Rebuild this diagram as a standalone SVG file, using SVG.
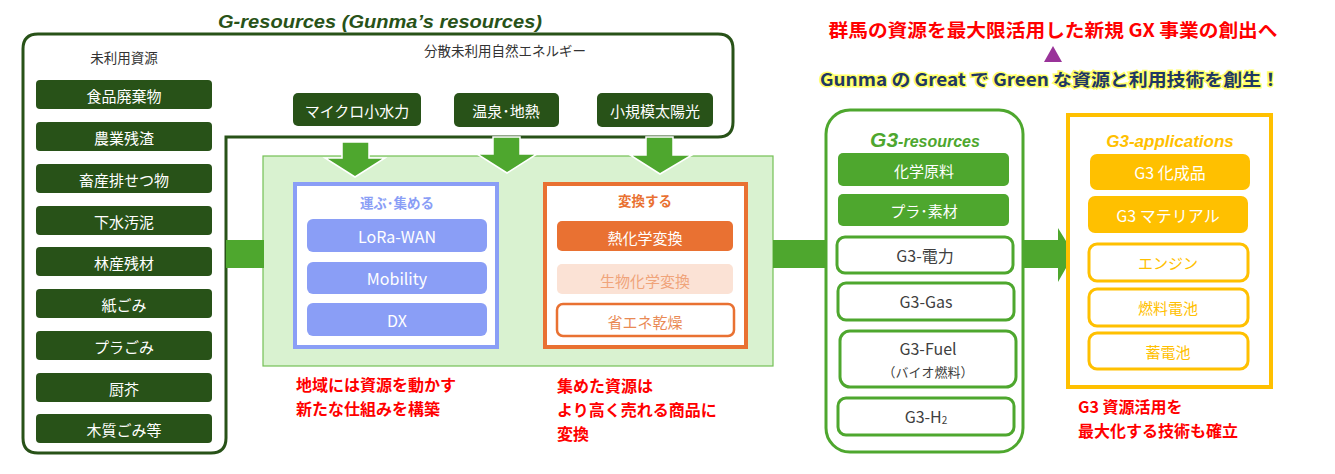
<svg xmlns="http://www.w3.org/2000/svg" width="1335" height="474" viewBox="0 0 1335 474">
<style>
text{font-family:"Noto Sans CJK JP","Noto Sans",sans-serif;}
.c{text-anchor:middle;dominant-baseline:central;}
.dg{fill:#285218;}
.wt{fill:#ffffff;font-size:15px;}
.blue{fill:#8a9ef6;}
.red{fill:#ff0000;font-size:16px;font-weight:bold;}
.g3o{fill:#ffffff;stroke:#4ea72e;stroke-width:3;}
.g3t{fill:#404040;font-size:16px;}
.yo{fill:#ffffff;stroke:#ffc000;stroke-width:3;}
.yt{fill:#ffc000;font-size:15px;}
.arrow{fill:#4ea72e;stroke:#ffffff;stroke-width:1.5;}
</style>
<rect width="1335" height="474" fill="#ffffff"/>

<g id="g-resources">
<text x="380" y="28" text-anchor="middle" textLength="324" lengthAdjust="spacingAndGlyphs" style="font-family:'Liberation Sans',Arial,sans-serif;font-weight:bold;font-style:italic;font-size:18px;fill:#285218;">G-resources (Gunma’s resources)</text>
<path d="M38,34 H718 Q733,34 733,49 V122 Q733,137 718,137 H226 V438 Q226,453 211,453 H38 Q23,453 23,438 V49 Q23,34 38,34 Z" fill="none" stroke="#285218" stroke-width="3"/>
<text class="c" x="124" y="57" style="font-size:13.5px;fill:#333;">未利用資源</text>
<text class="c" x="505" y="50" style="font-size:13.5px;fill:#333;">分散未利用自然エネルギー</text>
</g>

<g id="unused-resources">
<rect class="dg" x="36" y="80" width="176" height="29" rx="4"/><text class="c wt" x="124" y="95">食品廃棄物</text>
<rect class="dg" x="36" y="122" width="176" height="29" rx="4"/><text class="c wt" x="124" y="137">農業残渣</text>
<rect class="dg" x="36" y="164" width="176" height="29" rx="4"/><text class="c wt" x="124" y="179">畜産排せつ物</text>
<rect class="dg" x="36" y="206" width="176" height="29" rx="4"/><text class="c wt" x="124" y="221">下水汚泥</text>
<rect class="dg" x="36" y="247" width="176" height="29" rx="4"/><text class="c wt" x="124" y="262">林産残材</text>
<rect class="dg" x="36" y="289" width="176" height="29" rx="4"/><text class="c wt" x="124" y="304">紙ごみ</text>
<rect class="dg" x="36" y="331" width="176" height="29" rx="4"/><text class="c wt" x="124" y="346">プラごみ</text>
<rect class="dg" x="36" y="373" width="176" height="29" rx="4"/><text class="c wt" x="124" y="388">厨芥</text>
<rect class="dg" x="36" y="414" width="176" height="29" rx="4"/><text class="c wt" x="124" y="429">木質ごみ等</text>
</g>

<g id="energy">
<rect class="dg" x="293" y="93" width="128" height="33" rx="5"/><text class="c wt" x="357" y="110">マイクロ小水力</text>
<rect class="dg" x="454" y="93" width="105" height="34" rx="5"/><text class="c wt" x="506" y="110">温泉･地熱</text>
<rect class="dg" x="597" y="93" width="116" height="34" rx="5"/><text class="c wt" x="655" y="110">小規模太陽光</text>
</g>

<g id="panel">
<rect x="263" y="156" width="510" height="210" fill="#d9f2d0" stroke="#74c055" stroke-width="1.2"/>
</g>

<g id="connectors">
<polygon class="arrow" points="342,142 369,142 369,158 385,158 355,177 325,158 342,158"/>
<polygon class="arrow" points="493,137 520,137 520,154 537,154 507,173 477,154 493,154"/>
<polygon class="arrow" points="646,137 673,137 673,155 692,155 660,174 630,155 646,155"/>
<rect x="226" y="240" width="38" height="28" fill="#4ea72e"/>
<rect x="773" y="240" width="53" height="28" fill="#4ea72e"/>
<polygon points="1023,240 1058,240 1058,228 1074,254 1058,282 1058,268 1023,268" fill="#4ea72e"/>
</g>

<g id="collect">
<rect x="295" y="184" width="202" height="163" fill="#ffffff" stroke="#8a9ef6" stroke-width="4"/>
<text class="c" x="397" y="202" style="font-size:13.5px;font-weight:bold;fill:#8a9ef6;">運ぶ･集める</text>
<rect class="blue" x="307" y="219" width="180" height="33" rx="6"/><text class="c" x="397" y="236" style="fill:#fff;font-size:16px;">LoRa-WAN</text>
<rect class="blue" x="307" y="262" width="180" height="32" rx="6"/><text class="c" x="397" y="278" style="fill:#fff;font-size:16px;">Mobility</text>
<rect class="blue" x="307" y="303" width="180" height="33" rx="6"/><text class="c" x="397" y="320" style="fill:#fff;font-size:16px;">DX</text>
</g>

<g id="convert">
<rect x="545" y="184" width="201" height="163" fill="#ffffff" stroke="#e97132" stroke-width="4"/>
<text class="c" x="645" y="200" style="font-size:13.5px;font-weight:bold;fill:#e97132;">変換する</text>
<rect x="557" y="221" width="176" height="30" rx="5" fill="#e97132"/><text class="c" x="645" y="237" style="fill:#fff;font-size:15px;">熱化学変換</text>
<rect x="557" y="264" width="176" height="30" rx="5" fill="#fbe2d5"/><text class="c" x="645" y="280" style="fill:#f0a47a;font-size:15px;">生物化学変換</text>
<rect x="557" y="304" width="177" height="32" rx="6" fill="#ffffff" stroke="#e97132" stroke-width="2.5"/><text class="c" x="645" y="321" style="fill:#e98a55;font-size:15px;">省エネ乾燥</text>
</g>

<g id="notes">
<text class="red" x="296" y="391">地域には資源を動かす</text>
<text class="red" x="296" y="415">新たな仕組みを構築</text>
<text class="red" x="557" y="392">集めた資源は</text>
<text class="red" x="557" y="416">より高く売れる商品に</text>
<text class="red" x="557" y="440">変換</text>
<text class="red" x="1078" y="413">G3 資源活用を</text>
<text class="red" x="1078" y="437">最大化する技術も確立</text>
</g>

<g id="headline">
<text x="1053" y="37" text-anchor="middle" textLength="449" lengthAdjust="spacingAndGlyphs" style="font-size:18.5px;font-weight:bold;fill:#ff0000;">群馬の資源を最大限活用した新規 GX 事業の創出へ</text>
<polygon points="1053,46 1062,62 1044,62" fill="#993399"/>
<text x="1050" y="86" text-anchor="middle" textLength="460" lengthAdjust="spacingAndGlyphs" style="font-size:17.5px;font-weight:bold;fill:#1f3864;stroke:#ffff66;stroke-width:3;paint-order:stroke;">Gunma の Great で Green な資源と利用技術を創生！</text>
</g>

<g id="g3-resources">
<rect x="826" y="110" width="197" height="342" rx="24" fill="#ffffff" stroke="#4ea72e" stroke-width="3"/>
<text x="925" y="147" text-anchor="middle" style="font-family:'Liberation Sans',Arial,sans-serif;font-weight:bold;font-style:italic;fill:#4ea72e;"><tspan style="font-size:21px;">G3</tspan><tspan style="font-size:16px;">-resources</tspan></text>
<rect x="838" y="153" width="171" height="33" rx="5" fill="#4ea72e"/><text class="c wt" x="924" y="170">化学原料</text>
<rect x="838" y="194" width="171" height="32" rx="5" fill="#4ea72e"/><text class="c wt" x="924" y="210">プラ･素材</text>
<rect class="g3o" x="837" y="237" width="176" height="36" rx="8"/><text class="c g3t" x="925" y="255">G3-電力</text>
<rect class="g3o" x="838" y="283" width="176" height="37" rx="8"/><text class="c g3t" x="926" y="301">G3-Gas</text>
<rect class="g3o" x="840" y="331" width="176" height="56" rx="10"/>
<text class="c g3t" x="928" y="348">G3-Fuel</text>
<text class="c" x="928" y="371" style="fill:#404040;font-size:13px;">（バイオ燃料）</text>
<rect class="g3o" x="838" y="398" width="176" height="37" rx="8"/><text class="c g3t" x="926" y="416">G3-H<tspan style="font-size:10px;" dy="3">2</tspan></text>
</g>

<g id="g3-applications">
<rect x="1068" y="115" width="203" height="272" fill="#ffffff" stroke="#ffc000" stroke-width="4"/>
<text x="1170" y="147" text-anchor="middle" style="font-family:'Liberation Sans',Arial,sans-serif;font-weight:bold;font-style:italic;font-size:17px;fill:#ffc000;">G3-applications</text>
<rect x="1090" y="154" width="160" height="36" rx="7" fill="#ffc000"/><text class="c" x="1170" y="172" style="fill:#fff;font-size:16px;">G3 化成品</text>
<rect x="1088" y="196" width="160" height="37" rx="7" fill="#ffc000"/><text class="c" x="1168" y="215" style="fill:#fff;font-size:16px;">G3 マテリアル</text>
<rect class="yo" x="1089" y="244" width="159" height="37" rx="8"/><text class="c yt" x="1168" y="262">エンジン</text>
<rect class="yo" x="1089" y="289" width="159" height="37" rx="8"/><text class="c yt" x="1168" y="307">燃料電池</text>
<rect class="yo" x="1089" y="333" width="159" height="36" rx="8"/><text class="c yt" x="1168" y="351">蓄電池</text>
</g>
</svg>
